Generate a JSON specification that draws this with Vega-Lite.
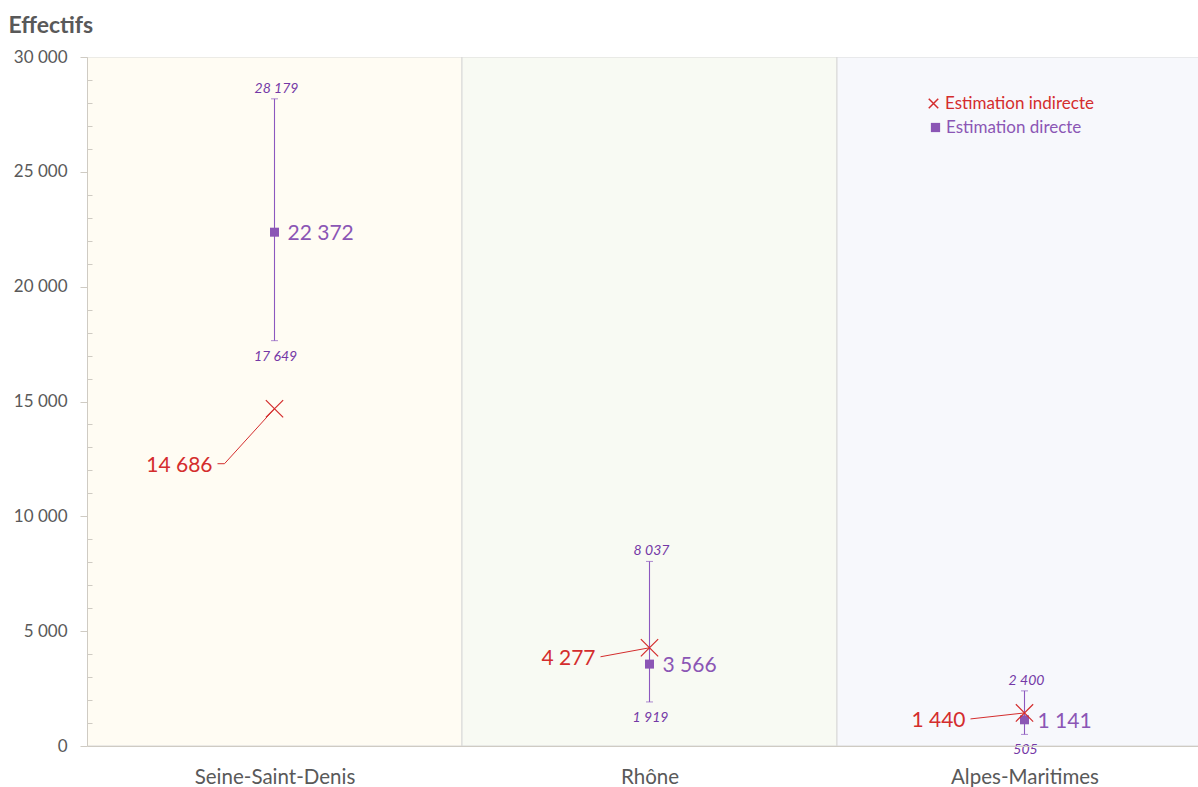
{
  "$schema": "https://vega.github.io/schema/vega-lite/v6.json",
  "width": 1111,
  "height": 689,
  "autosize": "none",
  "padding": {"left": 87, "top": 57, "right": 0, "bottom": 41},
  "config": {
    "font": "Lato",
    "view": {"stroke": null},
    "locale": {"number": {"decimal": ",", "thousands": " ", "grouping": [3], "currency": ["", " €"]}}
  },
  "data": {"values": [
    {"cat": "Seine-Saint-Denis", "idx": 0, "direct": 22372, "low": 17649, "high": 28179, "indirect": 14686},
    {"cat": "Rhône", "idx": 1, "direct": 3566, "low": 1919, "high": 8037, "indirect": 4277},
    {"cat": "Alpes-Maritimes", "idx": 2, "direct": 1141, "low": 505, "high": 2400, "indirect": 1440}
  ]},
  "encoding": {
    "x": {"field": "idx", "type": "quantitative",
      "scale": {"domain": [-0.5, 2.46267], "nice": false, "zero": false, "padding": 0},
      "axis": {"title": null, "values": [0, 1, 2],
        "labelExpr": "['Seine-Saint-Denis','Rhône','Alpes-Maritimes'][datum.value]",
        "ticks": false, "labelFontSize": 20.5, "labelColor": "#595959", "labelPadding": 21,
        "domainColor": "#CFCBC3", "grid": false, "labelFlush": false, "zindex": 1}}
  },
  "resolve": {"axis": {"y": "independent"}},
  "layer": [
    {
      "mark": {"type": "bar", "size": 375, "stroke": "#D9D9D9", "strokeWidth": 1, "clip": true},
      "encoding": {
        "y": {"datum": 30000, "type": "quantitative",
          "scale": {"domain": [0, 30000], "nice": false, "padding": 0}, "axis": null},
        "y2": {"datum": 0},
        "fill": {"field": "cat", "type": "nominal",
          "scale": {"domain": ["Seine-Saint-Denis", "Rhône", "Alpes-Maritimes"], "range": ["#FFFCF3", "#F8FAF3", "#F7F8FC"]},
          "legend": null}
      }
    },
    {
      "mark": {"type": "rule", "color": "#8C58BF", "strokeWidth": 1.1},
      "encoding": {
        "y": {"field": "low", "type": "quantitative",
          "axis": {"orient": "left", "title": "Effectifs", "titleAngle": 0, "titleAlign": "left", "titleBaseline": "middle",
            "titleX": -79, "titleY": -32, "titleFontSize": 23, "titleFontWeight": "bold", "titleColor": "#595959",
            "values": [0, 5000, 10000, 15000, 20000, 25000, 30000],
            "format": ",d",
            "labelFontSize": 17, "labelColor": "#595959", "labelPadding": 13, "labelOverlap": false,
            "tickSize": 7, "tickColor": "#CFCBC3", "domainColor": "#CFCBC3", "grid": false, "zindex": 1}},
        "y2": {"field": "high"}
      }
    },
    {
      "mark": {"type": "tick", "orient": "horizontal", "size": 7, "thickness": 1, "color": "#8C58BF"},
      "encoding": {
        "y": {"field": "low", "type": "quantitative",
          "axis": {"orient": "left", "title": null, "labels": false, "domain": false, "grid": false,
            "values": [1000,2000,3000,4000,6000,7000,8000,9000,11000,12000,13000,14000,16000,17000,18000,19000,21000,22000,23000,24000,26000,27000,28000,29000],
            "tickSize": -5, "tickColor": "#CFCBC3", "zindex": 1}}
      }
    },
    {
      "mark": {"type": "tick", "orient": "horizontal", "size": 7, "thickness": 1, "color": "#8C58BF"},
      "encoding": {
        "y": {"field": "high", "type": "quantitative", "axis": null}
      }
    },
    {
      "mark": {"type": "point", "filled": true, "shape": "square", "size": 81, "opacity": 1},
      "encoding": {
        "y": {"field": "direct", "type": "quantitative", "axis": null},
        "color": {"datum": "Estimation directe",
          "scale": {"domain": ["Estimation directe"], "range": ["#8B56B5"]},
          "legend": {"title": null, "orient": "none", "legendX": 840, "legendY": 62, "padding": 0,
            "symbolType": "square", "symbolSize": 85, "labelFontSize": 17, "labelOffset": 2,
            "labelColor": "#8B56B5"}}
      }
    },
    {
      "mark": {"type": "point", "filled": false, "shape": "M-1,-1L1,1M1,-1L-1,1", "size": 300, "strokeWidth": 1.2, "opacity": 1},
      "encoding": {
        "y": {"field": "indirect", "type": "quantitative", "axis": null},
        "stroke": {"datum": "Estimation indirecte",
          "scale": {"domain": ["Estimation indirecte"], "range": ["#D42D2D"]},
          "legend": {"title": null, "orient": "none", "legendX": 838, "legendY": 38, "padding": 0,
            "symbolType": "M-1,-1L1,1M1,-1L-1,1", "symbolSize": 90, "symbolStrokeWidth": 1.5, "labelFontSize": 17, "labelOffset": 3,
            "labelColor": "#D42D2D"}}
      }
    },
    {
      "mark": {"type": "text", "align": "left", "baseline": "middle", "dx": 13, "dy": 2, "fontSize": 21, "color": "#8B56B5"},
      "encoding": {
        "y": {"field": "direct", "type": "quantitative", "axis": null},
        "text": {"field": "direct", "type": "quantitative", "format": ",d"}
      }
    },
    {
      "mark": {"type": "text", "align": "center", "baseline": "middle", "dx": 2, "dy": -10, "fontSize": 14, "fontStyle": "italic", "color": "#7438A6"},
      "encoding": {
        "y": {"field": "high", "type": "quantitative", "axis": null},
        "text": {"field": "high", "type": "quantitative", "format": ",d"}
      }
    },
    {
      "mark": {"type": "text", "align": "center", "baseline": "middle", "dx": 1, "dy": 16, "fontSize": 14, "fontStyle": "italic", "color": "#7438A6"},
      "encoding": {
        "y": {"field": "low", "type": "quantitative", "axis": null},
        "text": {"field": "low", "type": "quantitative", "format": ",d"}
      }
    },
    {
      "transform": [{"filter": "datum.cat === 'Seine-Saint-Denis'"}],
      "mark": {"type": "text", "align": "right", "baseline": "middle", "dx": -62, "dy": 57, "fontSize": 21, "color": "#D42D2D"},
      "encoding": {
        "y": {"field": "indirect", "type": "quantitative", "axis": null},
        "text": {"field": "indirect", "type": "quantitative", "format": ",d"}
      }
    },
    {
      "transform": [{"filter": "datum.cat === 'Rhône'"}],
      "mark": {"type": "text", "align": "right", "baseline": "middle", "dx": -54, "dy": 11, "fontSize": 21, "color": "#D42D2D"},
      "encoding": {
        "y": {"field": "indirect", "type": "quantitative", "axis": null},
        "text": {"field": "indirect", "type": "quantitative", "format": ",d"}
      }
    },
    {
      "transform": [{"filter": "datum.cat === 'Alpes-Maritimes'"}],
      "mark": {"type": "text", "align": "right", "baseline": "middle", "dx": -59, "dy": 8, "fontSize": 21, "color": "#D42D2D"},
      "encoding": {
        "y": {"field": "indirect", "type": "quantitative", "axis": null},
        "text": {"field": "indirect", "type": "quantitative", "format": ",d"}
      }
    },
    {
      "transform": [{"filter": "datum.cat === 'Seine-Saint-Denis'"}],
      "mark": {"type": "rule", "color": "#D42D2D", "strokeWidth": 1, "x2Offset": -50, "y2Offset": 55},
      "encoding": {
        "y": {"field": "indirect", "type": "quantitative", "axis": null},
        "x2": {"field": "idx"},
        "y2": {"field": "indirect"}
      }
    },
    {
      "transform": [{"filter": "datum.cat === 'Seine-Saint-Denis'"}],
      "mark": {"type": "rule", "color": "#D42D2D", "strokeWidth": 1, "xOffset": -57, "x2Offset": -50, "yOffset": 55, "y2Offset": 55},
      "encoding": {
        "y": {"field": "indirect", "type": "quantitative", "axis": null},
        "x2": {"field": "idx"},
        "y2": {"field": "indirect"}
      }
    },
    {
      "transform": [{"filter": "datum.cat === 'Rhône'"}],
      "mark": {"type": "rule", "color": "#D42D2D", "strokeWidth": 1, "x2Offset": -49, "y2Offset": 9},
      "encoding": {
        "y": {"field": "indirect", "type": "quantitative", "axis": null},
        "x2": {"field": "idx"},
        "y2": {"field": "indirect"}
      }
    },
    {
      "transform": [{"filter": "datum.cat === 'Alpes-Maritimes'"}],
      "mark": {"type": "rule", "color": "#D42D2D", "strokeWidth": 1, "x2Offset": -54, "y2Offset": 6},
      "encoding": {
        "y": {"field": "indirect", "type": "quantitative", "axis": null},
        "x2": {"field": "idx"},
        "y2": {"field": "indirect"}
      }
    }
  ]
}
